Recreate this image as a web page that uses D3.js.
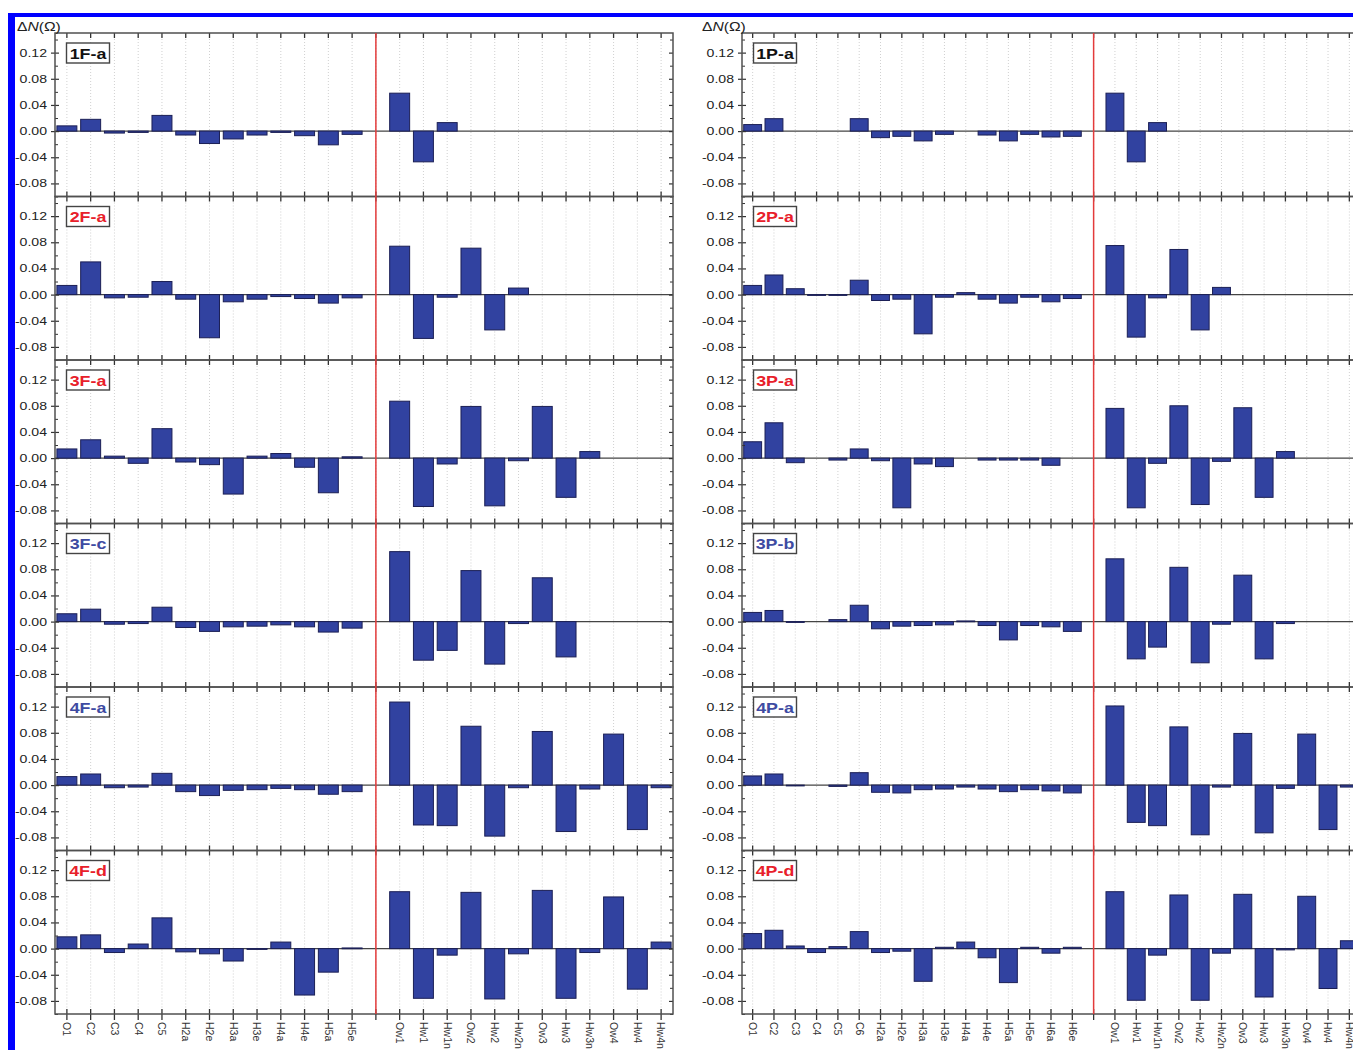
<!DOCTYPE html>
<html><head><meta charset="utf-8">
<script src="https://cdn.jsdelivr.net/npm/d3@7"></script>
<style>body{margin:0;background:#fff} svg{display:block}</style>
</head><body>
<script>
// ---------- categories ----------
const leftRingCats  = ["O1","C2","C3","C4","C5","H2a","H2e","H3a","H3e","H4a","H4e","H5a","H5e"];
const rightRingCats = ["O1","C2","C3","C4","C5","C6","H2a","H2e","H3a","H3e","H4a","H4e","H5a","H5e","H6a","H6e"];
const waterCats     = ["Ow1","Hw1","Hw1n","Ow2","Hw2","Hw2n","Ow3","Hw3","Hw3n","Ow4","Hw4","Hw4n"];

// ---------- y ticks ----------
const yTickLabels = [-0.08,-0.04,0.00,0.04,0.08,0.12];
const yMinorTicks = [-0.10,-0.06,-0.02,0.02,0.06,0.10,0.14];
const yDomain = [-0.10, 0.15];

// ---------- panel names ----------
const leftPanelNames   = ["1F-a","2F-a","3F-a","3F-c","4F-a","4F-d"];
const rightPanelNames  = ["1P-a","2P-a","3P-a","3P-b","4P-a","4P-d"];
const leftPanelColors  = ["black","red","red","blue","blue","red"];
const rightPanelColors = ["black","red","red","blue","blue","red"];

// ---------- left column values (ΔN, Ω) ----------
const ring1Fa  = [0.008,0.018,-0.003,-0.002,0.024,-0.006,-0.019,-0.012,-0.006,-0.002,-0.007,-0.021,-0.005];
const water1Fa = [0.058,-0.047,0.013,null,null,null,null,null,null,null,null,null];
const ring2Fa  = [0.014,0.050,-0.005,-0.004,0.020,-0.007,-0.066,-0.011,-0.007,-0.003,-0.006,-0.013,-0.005];
const water2Fa = [0.074,-0.067,-0.004,0.071,-0.054,0.010,null,null,null,null,null,null];
const ring3Fa  = [0.014,0.028,0.003,-0.008,0.045,-0.006,-0.010,-0.055,0.003,0.007,-0.014,-0.053,0.002];
const water3Fa = [0.087,-0.074,-0.009,0.079,-0.073,-0.004,0.079,-0.060,0.010,null,null,null];
const ring3Fc  = [0.012,0.019,-0.004,-0.003,0.022,-0.009,-0.015,-0.008,-0.007,-0.005,-0.008,-0.016,-0.010];
const water3Fc = [0.107,-0.059,-0.044,0.078,-0.065,-0.003,0.067,-0.054,null,null,null,null];
const ring4Fa  = [0.013,0.017,-0.004,-0.003,0.018,-0.010,-0.016,-0.008,-0.007,-0.005,-0.007,-0.014,-0.010];
const water4Fa = [0.127,-0.061,-0.062,0.090,-0.078,-0.004,0.082,-0.071,-0.006,0.078,-0.068,-0.004];
const ring4Fd  = [0.018,0.021,-0.006,0.007,0.047,-0.005,-0.008,-0.019,-0.001,0.010,-0.071,-0.036,0.001];
const water4Fd = [0.087,-0.076,-0.010,0.086,-0.077,-0.008,0.089,-0.076,-0.006,0.079,-0.062,0.010];

// ---------- right column values ----------
const ring1Pa  = [0.010,0.019,null,null,null,0.019,-0.010,-0.008,-0.015,-0.005,null,-0.006,-0.015,-0.005,-0.009,-0.008];
const water1Pa = [0.058,-0.047,0.013,null,null,null,null,null,null,null,null,null];
const ring2Pa  = [0.014,0.030,0.009,-0.001,-0.001,0.022,-0.009,-0.007,-0.060,-0.004,0.003,-0.007,-0.013,-0.004,-0.011,-0.006];
const water2Pa = [0.075,-0.065,-0.005,0.069,-0.054,0.011,null,null,null,null,null,null];
const ring3Pa  = [0.025,0.054,-0.007,null,-0.003,0.014,-0.004,-0.076,-0.009,-0.013,null,-0.003,-0.003,-0.003,-0.011,null];
const water3Pa = [0.076,-0.076,-0.008,0.080,-0.071,-0.005,0.077,-0.060,0.010,null,null,null];
const ring3Pb  = [0.014,0.017,-0.001,null,0.003,0.025,-0.011,-0.007,-0.006,-0.005,0.001,-0.006,-0.028,-0.006,-0.008,-0.015];
const water3Pb = [0.096,-0.057,-0.039,0.083,-0.063,-0.004,0.071,-0.057,-0.003,null,null,null];
const ring4Pa  = [0.014,0.017,-0.001,null,-0.002,0.019,-0.011,-0.012,-0.007,-0.006,-0.003,-0.006,-0.010,-0.007,-0.009,-0.012];
const water4Pa = [0.121,-0.057,-0.062,0.089,-0.076,-0.003,0.079,-0.073,-0.005,0.078,-0.068,-0.003];
const ring4Pd  = [0.023,0.028,0.004,-0.006,0.003,0.026,-0.006,-0.004,-0.050,0.002,0.010,-0.014,-0.052,0.002,-0.007,0.002];
const water4Pd = [0.087,-0.079,-0.010,0.082,-0.079,-0.007,0.083,-0.074,-0.002,0.080,-0.061,0.012];

const leftRings   = [ring1Fa,ring2Fa,ring3Fa,ring3Fc,ring4Fa,ring4Fd];
const leftWaters  = [water1Fa,water2Fa,water3Fa,water3Fc,water4Fa,water4Fd];
const rightRings  = [ring1Pa,ring2Pa,ring3Pa,ring3Pb,ring4Pa,ring4Pd];
const rightWaters = [water1Pa,water2Pa,water3Pa,water3Pb,water4Pa,water4Pd];

// ---------- drawing ----------
const W = 1353, H = 1050;
const TOP = 33, PANEL_H = 163.5, NP = 6;
const STRETCH = 1.28;
const FONT = "Arial, 'Liberation Sans', sans-serif";
const colorMap = {black:"#111111", red:"#e8202a", blue:"#3e4ba2"};
const BAR_FILL = "#3142a0", BAR_STROKE = "#1b1f55";
const AX = "#333333";

const svg = d3.select("body").append("svg").attr("width", W).attr("height", H)
  .style("font-family", FONT);
svg.append("rect").attr("width", W).attr("height", H).attr("fill", "#fff");

const columns = [
  {x0: 55,  w: 618, ring: leftRingCats,  names: leftPanelNames,  colors: leftPanelColors,  rings: leftRings,  waters: leftWaters,  titleX: 17},
  {x0: 742, w: 618, ring: rightRingCats, names: rightPanelNames, colors: rightPanelColors, rings: rightRings, waters: rightWaters, titleX: 702}
];

columns.forEach(col => {
  const cats = col.ring.concat(["__sep__"], waterCats);
  const n = cats.length;
  const sep = col.ring.length;
  const x = d3.scaleBand().domain(d3.range(n)).range([col.x0, col.x0 + col.w])
    .paddingInner(0.16).paddingOuter(0.08);
  const bw = x.bandwidth();
  const cx = i => x(i) + bw / 2;
  const g = svg.append("g");

  for (let p = 0; p < NP; p++) {
    const y0 = TOP + p * PANEL_H;
    const y = d3.scaleLinear().domain(yDomain).range([y0 + PANEL_H, y0]);
    const vals = col.rings[p].concat([null], col.waters[p]);
    const pg = g.append("g");

    // dotted vertical grid
    pg.append("g").selectAll("line").data(d3.range(n)).join("line")
      .attr("x1", cx).attr("x2", cx).attr("y1", y0).attr("y2", y0 + PANEL_H)
      .attr("stroke", "#c4c4c4").attr("stroke-width", 0.8).attr("stroke-dasharray", "1,2");

    // zero line
    pg.append("line").attr("x1", col.x0).attr("x2", col.x0 + col.w)
      .attr("y1", y(0)).attr("y2", y(0)).attr("stroke", "#444").attr("stroke-width", 1.4);

    // bars
    const data = vals.map((v, i) => ({i, v})).filter(d => d.v !== null);
    pg.append("g").selectAll("rect").data(data).join("rect")
      .attr("x", d => x(d.i)).attr("width", bw)
      .attr("y", d => y(Math.max(0, d.v)))
      .attr("height", d => Math.max(0.8, Math.abs(y(d.v) - y(0))))
      .attr("fill", BAR_FILL).attr("stroke", BAR_STROKE).attr("stroke-width", 1);

    // left axis: major ticks with labels
    const la = pg.append("g").attr("transform", `translate(${col.x0},0)`)
      .call(d3.axisLeft(y).tickValues(yTickLabels).tickFormat(d => d.toFixed(2))
        .tickSizeOuter(0).tickSizeInner(4).tickPadding(4));
    la.select(".domain").remove();
    la.selectAll(".tick line").attr("x1", 4).attr("x2", -4).attr("stroke", AX).attr("stroke-width", 1.2);
    la.selectAll(".tick text").attr("x", -8 / STRETCH).attr("transform", `scale(${STRETCH},1)`)
      .attr("font-size", 11).attr("fill", "#222").attr("font-family", FONT);
    // left minor ticks
    const lm = pg.append("g").attr("transform", `translate(${col.x0},0)`)
      .call(d3.axisLeft(y).tickValues(yMinorTicks).tickFormat("").tickSizeOuter(0).tickSizeInner(-3));
    lm.select(".domain").remove();
    lm.selectAll(".tick line").attr("stroke", AX);

    // right axis ticks inward
    const ra = pg.append("g").attr("transform", `translate(${col.x0 + col.w},0)`)
      .call(d3.axisRight(y).tickValues(yTickLabels).tickFormat("").tickSizeOuter(0).tickSizeInner(-4));
    ra.select(".domain").remove();
    ra.selectAll(".tick line").attr("stroke", AX).attr("stroke-width", 1.2);
    const rm = pg.append("g").attr("transform", `translate(${col.x0 + col.w},0)`)
      .call(d3.axisRight(y).tickValues(yMinorTicks).tickFormat("").tickSizeOuter(0).tickSizeInner(-3));
    rm.select(".domain").remove();
    rm.selectAll(".tick line").attr("stroke", AX);

    // top axis ticks inward
    const ta = pg.append("g").attr("transform", `translate(0,${y0})`)
      .call(d3.axisTop(x).tickFormat("").tickSizeOuter(0).tickSizeInner(-5));
    ta.select(".domain").remove();
    ta.selectAll(".tick line").attr("stroke", AX).attr("stroke-width", 1.3);

    // bottom axis ticks
    const ba = pg.append("g").attr("transform", `translate(0,${y0 + PANEL_H})`)
      .call(d3.axisBottom(x).tickFormat("").tickSizeOuter(0).tickSizeInner(-5));
    ba.select(".domain").remove();
    ba.selectAll(".tick line").attr("stroke", AX).attr("stroke-width", 1.3);
    if (p === NP - 1) ba.selectAll(".tick line").attr("y1", -5).attr("y2", 6);

    // frame
    pg.append("rect").attr("x", col.x0).attr("y", y0).attr("width", col.w).attr("height", PANEL_H)
      .attr("fill", "none").attr("stroke", "#505050").attr("stroke-width", 1.5);

    // panel label box
    const bx = col.x0 + 11.5, by = y0 + 10, bwid = 43, bh = 20;
    pg.append("rect").attr("x", bx).attr("y", by).attr("width", bwid).attr("height", bh)
      .attr("fill", "#fff").attr("stroke", "#444").attr("stroke-width", 1.4);
    pg.append("text").attr("transform", `translate(${bx + bwid / 2},${by + bh / 2 + 5.5}) scale(1.15,1)`)
      .attr("text-anchor", "middle").attr("font-size", 15.5).attr("font-weight", "bold")
      .attr("fill", colorMap[col.colors[p]]).text(col.names[p]);
  }

  // red separator line
  g.append("line").attr("x1", cx(sep)).attr("x2", cx(sep)).attr("y1", TOP).attr("y2", TOP + NP * PANEL_H)
    .attr("stroke", "#e33b3b").attr("stroke-width", 1.5);

  // x labels rotated
  const yb = TOP + NP * PANEL_H;
  g.append("g").selectAll("text").data(d3.range(n).filter(i => i !== sep)).join("text")
    .attr("transform", i => `translate(${cx(i)},${yb + 8}) rotate(90)`)
    .attr("dy", "0.35em").attr("text-anchor", "start").attr("font-size", 10.5)
    .attr("fill", "#333").text(i => cats[i]);

  // y title
  const t = g.append("text").attr("transform", `translate(${col.titleX},31) scale(1.25,1)`)
    .attr("font-size", 12.5).attr("fill", "#222");
  t.append("tspan").text("Δ");
  t.append("tspan").attr("font-style", "italic").text("N");
  t.append("tspan").text("(Ω)");
});

// blue outer frame (cropped at right and bottom)
svg.append("rect").attr("x", 8).attr("y", 13).attr("width", 7).attr("height", H - 13).attr("fill", "#0000ff");
svg.append("rect").attr("x", 8).attr("y", 13).attr("width", W - 8).attr("height", 4).attr("fill", "#0000ff");
</script>
</body></html>
